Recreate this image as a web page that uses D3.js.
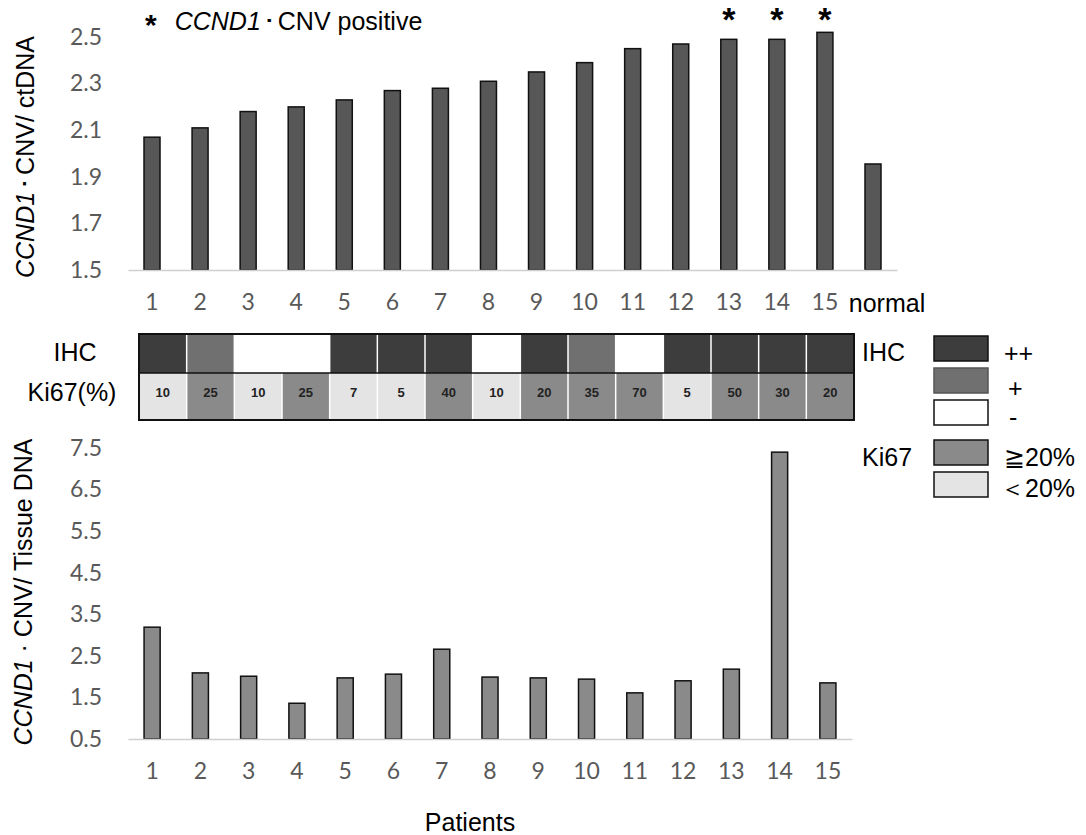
<!DOCTYPE html>
<html>
<head>
<meta charset="utf-8">
<script src="https://cdn.jsdelivr.net/npm/d3@7"></script>
<style>
  body { margin: 0; background: #fff; }
  svg { display: block; }
  .tick text { font-family: Lato, "Open Sans", sans-serif; fill: #595959; }
  .lbl { font-family: "Liberation Sans", Arial, sans-serif; fill: #000; }
</style>
</head>
<body>
<div id="chart_wrapper"></div>
<script>
// ---- data ----
var topCategories = ["1","2","3","4","5","6","7","8","9","10","11","12","13","14","15","normal"];
var ctdnaValues = [2.07, 2.11, 2.18, 2.20, 2.23, 2.27, 2.28, 2.31, 2.35, 2.39, 2.45, 2.47, 2.49, 2.49, 2.52, 1.955];
var positiveCases = ["13","14","15"];
var topTicks = [1.5, 1.7, 1.9, 2.1, 2.3, 2.5];

var patients = ["1","2","3","4","5","6","7","8","9","10","11","12","13","14","15"];
var ihcScores = ["++","+","-","-","++","++","++","-","++","+","-","++","++","++","++"];
var ki67Values = [10, 25, 10, 25, 7, 5, 40, 10, 20, 35, 70, 5, 50, 30, 20];
var tissueValues = [3.19, 2.09, 2.01, 1.36, 1.97, 2.06, 2.66, 1.99, 1.97, 1.94, 1.61, 1.90, 2.18, 7.40, 1.85];
var bottomTicks = [0.5, 1.5, 2.5, 3.5, 4.5, 5.5, 6.5, 7.5];

var ihcColor = {"++": "#3d3d3d", "+": "#707070", "-": "#ffffff"};
var ki67Color = function(v) { return v >= 20 ? "#8a8a8a" : "#e4e4e4"; };

var width = 1086, height = 835;
var svg = d3.select("#chart_wrapper").append("svg").attr("width", width).attr("height", height);

// ---- top chart ----
var xTop = d3.scaleBand().domain(topCategories).range([128, 897]).paddingInner(0.667).paddingOuter(0.333);
var yTop = d3.scaleLinear().domain([1.5, 2.5]).range([270, 37]);

svg.append("g")
    .attr("transform", "translate(128,0)")
    .call(d3.axisLeft(yTop).tickValues(topTicks).tickFormat(d3.format(".1f")).tickSize(0).tickPadding(26))
    .call(g => g.select(".domain").remove())
    .selectAll("text").style("font-size", "23px");

svg.selectAll(".barTop").data(topCategories).enter().append("rect")
    .attr("class", "barTop")
    .attr("x", d => xTop(d))
    .attr("width", xTop.bandwidth())
    .attr("y", (d, i) => yTop(ctdnaValues[i]))
    .attr("height", (d, i) => yTop(1.5) - yTop(ctdnaValues[i]))
    .attr("fill", "#575757").attr("stroke", "#111").attr("stroke-width", 1.5);

var gxTop = svg.append("g")
    .attr("transform", "translate(0,270)")
    .call(d3.axisBottom(xTop).tickSize(0).tickSizeOuter(0).tickPadding(24));
gxTop.select(".domain").attr("stroke", "#cfcfcf").attr("stroke-width", 1.5);
gxTop.selectAll("text").style("font-size", "23px");
gxTop.selectAll(".tick").filter(d => d === "normal").select("text")
    .attr("dx", 14).style("fill", "#000")
    .style("font-family", "'Liberation Sans', Arial, sans-serif").style("font-size", "25px");

// asterisks for positive cases
svg.selectAll(".star").data(positiveCases).enter().append("text")
    .attr("class", "lbl")
    .attr("x", d => xTop(d) + xTop.bandwidth() / 2)
    .attr("y", 31)
    .attr("text-anchor", "middle")
    .style("font-size", "34px").style("font-weight", "bold")
    .text("*");

// title
var title = svg.append("text").attr("class", "lbl").attr("x", 145).attr("y", 30).style("font-size", "25px");
title.append("tspan").style("font-weight", "bold").style("font-size", "30px").attr("dy", 5).text("*");
title.append("tspan").attr("dx", 18).attr("dy", -5).style("font-style", "italic").text("CCND1");
title.append("tspan").attr("dx", 2).text("･");
title.append("tspan").attr("dx", 2).text("CNV positive");

// top y title
var yt1 = svg.append("text").attr("class", "lbl")
    .attr("transform", "translate(34,157) rotate(-90)")
    .attr("text-anchor", "middle").style("font-size", "25px");
yt1.append("tspan").style("font-style", "italic").text("CCND1");
yt1.append("tspan").attr("dx", 2).text("･");
yt1.append("tspan").attr("dx", 2).text("CNV/ ctDNA");

// ---- IHC / Ki67 table ----
var xTab = d3.scaleBand().domain(patients).range([139, 854]);
var ihcTop = 334, ihcBottom = 373, kiBottom = 420;

svg.selectAll(".ihcCell").data(patients).enter().append("rect")
    .attr("class", "ihcCell")
    .attr("x", d => xTab(d)).attr("width", xTab.bandwidth())
    .attr("y", ihcTop).attr("height", ihcBottom - ihcTop)
    .attr("fill", (d, i) => ihcColor[ihcScores[i]]);

svg.selectAll(".kiCell").data(patients).enter().append("rect")
    .attr("class", "kiCell")
    .attr("x", d => xTab(d)).attr("width", xTab.bandwidth())
    .attr("y", ihcBottom).attr("height", kiBottom - ihcBottom)
    .attr("fill", (d, i) => ki67Color(ki67Values[i]));

// white separators between cells
svg.selectAll(".sep").data(patients.slice(1)).enter().append("line")
    .attr("x1", d => xTab(d)).attr("x2", d => xTab(d))
    .attr("y1", ihcTop).attr("y2", kiBottom)
    .attr("stroke", "#fff").attr("stroke-width", 1.5);

svg.append("line").attr("x1", 139).attr("x2", 854).attr("y1", ihcBottom).attr("y2", ihcBottom)
    .attr("stroke", "#111").attr("stroke-width", 1.5);
svg.append("rect").attr("x", 139).attr("y", ihcTop).attr("width", 715).attr("height", kiBottom - ihcTop)
    .attr("fill", "none").attr("stroke", "#111").attr("stroke-width", 2);

svg.selectAll(".kiText").data(patients).enter().append("text")
    .attr("class", "lbl")
    .attr("x", d => xTab(d) + xTab.bandwidth() / 2)
    .attr("y", 397)
    .attr("text-anchor", "middle")
    .style("font-size", "13px").style("font-weight", "bold").style("fill", "#222")
    .text((d, i) => ki67Values[i]);

svg.append("text").attr("class", "lbl").attr("x", 75).attr("y", 361).attr("text-anchor", "middle")
    .style("font-size", "25px").text("IHC");
svg.append("text").attr("class", "lbl").attr("x", 72).attr("y", 401).attr("text-anchor", "middle")
    .style("font-size", "25px").text("Ki67(%)");

// ---- legend ----
var legendItems = [
    {fill: ihcColor["++"], stroke: "#111", y: 336, label: "++", lx: 1004, dy: 26},
    {fill: ihcColor["+"], stroke: "#555", y: 368, label: "+", lx: 1008, dy: 29},
    {fill: ihcColor["-"], stroke: "#111", y: 400, label: "-", lx: 1009, dy: 26},
    {fill: "#8a8a8a", stroke: "#111", y: 440, label: "≧20%", lx: 1004, dy: 26},
    {fill: "#e4e4e4", stroke: "#111", y: 472, label: "＜20%", lx: 1000, dy: 25}
];
var legend = svg.selectAll(".leg").data(legendItems).enter().append("g");
legend.append("rect").attr("x", 934).attr("y", d => d.y).attr("width", 54).attr("height", 25)
    .attr("fill", d => d.fill).attr("stroke", d => d.stroke).attr("stroke-width", 1.5);
legend.append("text").attr("class", "lbl").attr("x", d => d.lx).attr("y", d => d.y + d.dy)
    .style("font-size", "25px").text(d => d.label);

svg.append("text").attr("class", "lbl").attr("x", 862).attr("y", 361).style("font-size", "25px").text("IHC");
svg.append("text").attr("class", "lbl").attr("x", 862).attr("y", 466).style("font-size", "25px").text("Ki67");

// ---- bottom chart ----
var xBot = d3.scaleBand().domain(patients).range([128, 852]).paddingInner(0.667).paddingOuter(0.333);
var yBot = d3.scaleLinear().domain([0.5, 7.5]).range([739, 448]);

svg.append("g")
    .attr("transform", "translate(128,0)")
    .call(d3.axisLeft(yBot).tickValues(bottomTicks).tickFormat(d3.format(".1f")).tickSize(0).tickPadding(26))
    .call(g => g.select(".domain").remove())
    .selectAll("text").style("font-size", "23px");

svg.selectAll(".barBot").data(patients).enter().append("rect")
    .attr("class", "barBot")
    .attr("x", d => xBot(d))
    .attr("width", xBot.bandwidth())
    .attr("y", (d, i) => yBot(tissueValues[i]))
    .attr("height", (d, i) => yBot(0.5) - yBot(tissueValues[i]))
    .attr("fill", "#8a8a8a").attr("stroke", "#111").attr("stroke-width", 1.5);

var gxBot = svg.append("g")
    .attr("transform", "translate(0,739)")
    .call(d3.axisBottom(xBot).tickSize(0).tickSizeOuter(0).tickPadding(24));
gxBot.select(".domain").attr("stroke", "#cfcfcf").attr("stroke-width", 1.5);
gxBot.selectAll("text").style("font-size", "23px");

var yt2 = svg.append("text").attr("class", "lbl")
    .attr("transform", "translate(32,592) rotate(-90)")
    .attr("text-anchor", "middle").style("font-size", "25px");
yt2.append("tspan").style("font-style", "italic").text("CCND1");
yt2.append("tspan").text(" · CNV/ Tissue DNA");

svg.append("text").attr("class", "lbl").attr("x", 470).attr("y", 831).attr("text-anchor", "middle")
    .style("font-size", "25px").text("Patients");
</script>
</body>
</html>
